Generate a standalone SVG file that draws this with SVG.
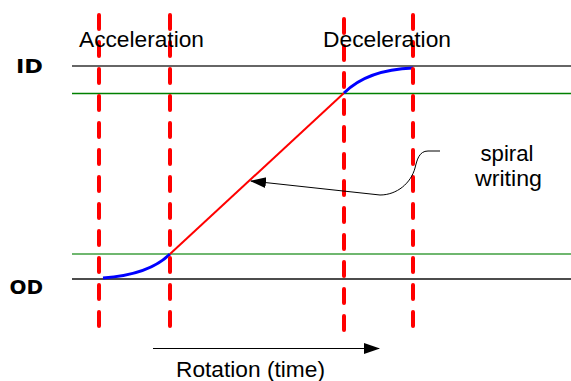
<svg xmlns="http://www.w3.org/2000/svg" width="571" height="381" viewBox="0 0 571 381">
<style>
.lbl{font-family:"Liberation Sans",Arial,sans-serif;font-size:22px;fill:#000;text-anchor:middle}
.axis{font-family:"DejaVu Sans",Verdana,sans-serif;font-weight:bold;font-size:20px;fill:#000;text-anchor:end}
.dash{stroke:#ff0000;stroke-width:4;stroke-dasharray:14 13;stroke-linecap:round;fill:none}
.conn{stroke:#000;stroke-width:1;fill:none}
</style>
<defs>
<marker id="ah" markerWidth="16" markerHeight="12" refX="15" refY="5.5" orient="auto" markerUnits="userSpaceOnUse">
<path d="M0,0 L16,5.5 L0,11 Z" fill="#000"/>
</marker>
</defs>
<rect width="571" height="381" fill="#fff"/>
<g id="levels">
<line x1="72" y1="66" x2="571" y2="66" stroke="#333" stroke-width="1.5"/>
<line x1="72" y1="93.5" x2="571" y2="93.5" stroke="#008000" stroke-width="1.3"/>
<line x1="72" y1="254" x2="571" y2="254" stroke="#3f9f3f" stroke-width="1.5"/>
<line x1="72" y1="279" x2="571" y2="279" stroke="#111" stroke-width="1.5"/>
</g>
<g id="trajectory">
<path d="M103,278 C132,276 156,268 170,254" stroke="#0000ff" stroke-width="3" fill="none"/>
<line x1="170" y1="254" x2="344" y2="93" stroke="#ff0000" stroke-width="2"/>
<path d="M344,93 C362,75 386,69 413,68" stroke="#0000ff" stroke-width="3" fill="none"/>
</g>
<g id="phase-markers">
<line class="dash" x1="99" y1="15" x2="99" y2="328"/>
<line class="dash" x1="170" y1="15" x2="170" y2="328"/>
<line class="dash" x1="344" y1="19" x2="344" y2="332"/>
<line class="dash" x1="413" y1="15" x2="413" y2="328"/>
</g>
<g id="label-accel"><text class="lbl" x="141.5" y="47" textLength="125" lengthAdjust="spacingAndGlyphs">Acceleration</text></g>
<g id="label-decel"><text class="lbl" x="387" y="47" textLength="128" lengthAdjust="spacingAndGlyphs">Deceleration</text></g>
<g id="label-id"><text class="axis" x="43" y="73" textLength="27" lengthAdjust="spacingAndGlyphs">ID</text></g>
<g id="label-od"><text class="axis" x="43" y="294">OD</text></g>
<g id="label-spiral">
<text class="lbl" x="507" y="161" textLength="53" lengthAdjust="spacingAndGlyphs">spiral</text>
<text class="lbl" x="508.5" y="186" textLength="67" lengthAdjust="spacingAndGlyphs">writing</text>
</g>
<g id="connectors">
<path class="conn" d="M440,151 L428,151 C419,151 417,160 415,168 C411,183 397,195 380,195 L251,181" marker-end="url(#ah)"/>
<line class="conn" x1="153" y1="348.5" x2="379" y2="348.5" stroke-width="1.3" marker-end="url(#ah)"/>
</g>
<g id="label-rotation"><text class="lbl" x="250.5" y="377" textLength="149" lengthAdjust="spacingAndGlyphs">Rotation (time)</text></g>
</svg>
